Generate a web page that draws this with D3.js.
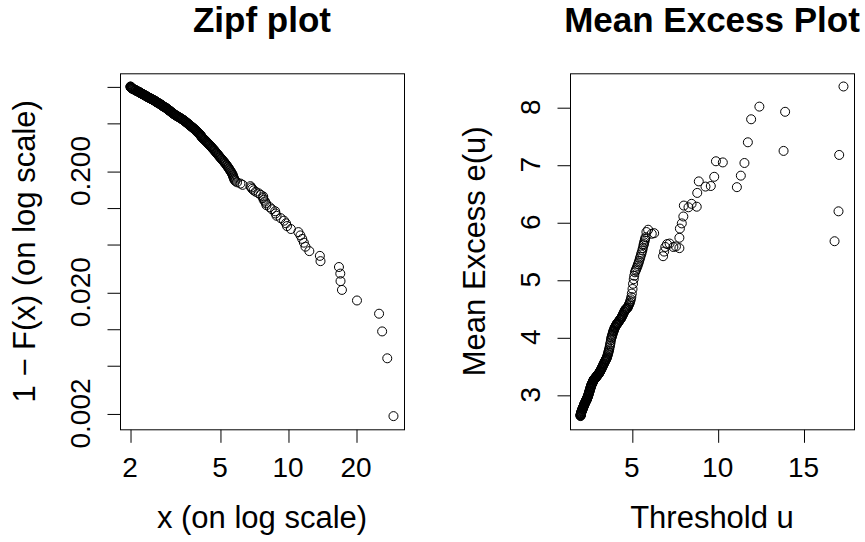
<!DOCTYPE html>
<html><head><meta charset="utf-8">
<script src="https://cdn.jsdelivr.net/npm/d3@7"></script>
<style>
html,body{margin:0;padding:0;background:#fff;}
svg{display:block;font-family:"Liberation Sans",Arial,Helvetica,sans-serif;}
</style>
</head><body>
<svg id="c" width="865" height="542"></svg>
<script>
const sample = [
2.01,2.01,2.01,2.02,2.02,2.02,2.03,2.03,2.03,
2.04,2.05,2.05,2.06,2.07, 2.08,2.09,2.10,2.11,2.12, 2.12,2.13,2.14,2.15,2.16,
2.17,2.18,2.19,2.20,2.21, 2.22,2.22,2.23,2.24,2.25, 2.26,2.27,2.28,2.29,2.30,
2.31,2.32,2.33,2.34,2.35, 2.36,2.37,2.38,2.39,2.40, 2.41,2.42,2.43,2.45,2.46,
2.47,2.48,2.49,2.51,2.52, 2.53,2.54,2.55,2.57,2.58, 2.59,2.60,2.61,2.62,2.63,
2.64,2.66,2.67,2.68,2.70, 2.71,2.72,2.73,2.75,2.76, 2.77,2.78,2.79,2.80,2.81,
2.83,2.84,2.86,2.87,2.89, 2.90,2.91,2.92,2.93,2.94, 2.95,2.97,2.98,3.00,3.01,
3.02,3.03,3.04,3.06,3.07, 3.08,3.10,3.11,3.13,3.14, 3.16,3.17,3.19,3.21,3.23,
3.25,3.27,3.29,3.31,3.33, 3.35,3.37,3.39,3.41,3.43, 3.45,3.47,3.48,3.50,3.52,
3.54,3.55,3.57,3.59,3.61, 3.63,3.64,3.66,3.68,3.70, 3.72,3.74,3.76,3.78,3.80,
3.82,3.84,3.86,3.88,3.90, 3.92,3.93,3.95,3.97,3.99, 4.01,4.03,4.05,4.08,4.10,
4.11,4.12,4.14,4.15,4.17, 4.19,4.22,4.24,4.27,4.29, 4.32,4.34,4.37,4.39,4.42,
4.44,4.47,4.49,4.52,4.55, 4.57,4.60,4.62,4.65,4.68, 4.71,4.74,4.76,4.79,4.82,
4.85,4.88,4.91,4.94,4.97, 5.00,5.04,5.07,5.11,5.14, 5.18,5.22,5.25,5.29,5.33,
5.36,5.40,5.43,5.47,5.50, 5.54,5.57,5.61,5.64,5.68, 5.70,5.72,5.75,5.77,5.80,
5.85,5.95,6.16,6.30,6.82,6.88,6.95,7.05,7.20,7.42,7.57,7.77,7.77,7.80,7.91,
8.00,8.03,8.30,8.48,8.78,8.81,8.90,9.29,9.60,9.80,9.90,10.30,11.12,11.35,11.56,
11.76,11.95,12.43,13.84,13.93,16.81,17.04,17.08,17.33,20.2,25.3,26.1,27.5,29.3
];
// Mean excess e(u), one per threshold u (sample without the 5 largest)
const meE = [
2.63,2.64,2.64,2.65,2.65,2.66,2.66,2.67,2.67,
2.68,2.69,2.69,2.70,2.71, 2.72,2.72,2.73,2.74,2.75, 2.75,2.76,2.76,2.77,2.78,
2.79,2.79,2.80,2.81,2.82, 2.82,2.83,2.83,2.84,2.85, 2.85,2.86,2.86,2.87,2.88,
2.88,2.89,2.90,2.90,2.91, 2.91,2.92,2.93,2.93,2.94, 2.95,2.96,2.96,2.98,2.99,
3.00,3.01,3.02,3.04,3.05, 3.06,3.07,3.08,3.10,3.11, 3.12,3.13,3.14,3.15,3.16,
3.17,3.18,3.19,3.19,3.21, 3.21,3.22,3.23,3.24,3.25, 3.25,3.26,3.27,3.27,3.27,
3.28,3.28,3.29,3.29,3.30, 3.30,3.31,3.31,3.32,3.32, 3.32,3.33,3.33,3.34,3.34,
3.35,3.35,3.36,3.36,3.37, 3.37,3.38,3.39,3.40,3.40, 3.41,3.42,3.43,3.44,3.45,
3.47,3.48,3.49,3.50,3.52, 3.53,3.54,3.55,3.57,3.58, 3.59,3.60,3.61,3.62,3.63,
3.65,3.65,3.67,3.69,3.71, 3.73,3.75,3.77,3.79,3.82, 3.85,3.88,3.91,3.95,3.98,
4.00,4.02,4.04,4.06,4.08, 4.10,4.11,4.12,4.14,4.16, 4.17,4.18,4.19,4.21,4.22,
4.22,4.23,4.23,4.24,4.25, 4.25,4.27,4.27,4.29,4.30, 4.31,4.32,4.33,4.34,4.36,
4.37,4.39,4.40,4.42,4.44, 4.45,4.47,4.48,4.49,4.50, 4.50,4.51,4.52,4.54,4.56,
4.58,4.60,4.63,4.66,4.70, 4.76,4.84,4.93,5.01,5.07, 5.13,5.16,5.18,5.21,5.24,
5.27,5.30,5.33,5.37,5.40, 5.44,5.47,5.51,5.55,5.60, 5.62,5.65,5.68,5.71,5.74,
5.83,5.87,5.80,5.81,5.41,5.49,5.57,5.62,5.63,5.57,5.58,5.55,5.73,5.89,5.98,
6.10,6.29,6.26,6.32,6.27,6.51,6.71,6.62,6.63,6.79,7.06,7.04,6.61,6.81,7.03,
7.39,7.79,8.01,7.24,7.92,5.67,6.19,7.17,8.36
];
const titles = ["Zipf plot", "Mean Excess Plot"];
const xLabels = ["x (on log scale)", "Threshold u"];
const yLabels = ["1 \u2212 F(x) (on log scale)", "Mean Excess e(u)"];
const zipfXTicks = [2, 5, 10, 20];
const zipfXTickLabels = ["2", "5", "10", "20"];
const zipfYTicks = [0.002, 0.005, 0.01, 0.02, 0.05, 0.1, 0.2, 0.5, 1];
const zipfYTickLabels = ["0.002", "", "", "0.020", "", "", "0.200", "", ""];
const meXTicks = [5, 10, 15];
const meXTickLabels = ["5", "10", "15"];
const meYTicks = [3, 4, 5, 6, 7, 8];
const meYTickLabels = ["3", "4", "5", "6", "7", "8"];

// ---- derived plotting data ----
const nObs = sample.length;
const zipf = sample.map((x, k) => ({x: x, y: (nObs - k - 0.5) / nObs}));  // empirical survival (plotting positions)
const meU = sample.slice(0, meE.length);
const me = meU.map((u, k) => ({x: u, y: meE[k]}));

// ---- layout ----
const W = 865, H = 542;
const pTop = 73.3, pBottom = 429.3;
const panels = [{x0: 120, x1: 404}, {x0: 570, x1: 854}];
const FT = 28, FL = 31, FM = 35;
const RAD = 4.5;

function padLin(ext){ const d = (ext[1]-ext[0])*0.04; return [ext[0]-d, ext[1]+d]; }
function padLog(ext){ const a = Math.log10(ext[0]), b = Math.log10(ext[1]); const d=(b-a)*0.04; return [Math.pow(10,a-d), Math.pow(10,b+d)]; }

const svg = d3.select("#c");
svg.append("rect").attr("width", W).attr("height", H).attr("fill", "#fff");

function drawPanel(p, pts, xs, ys, xt, xtl, yt, ytl, title, xl, yl) {
  const g = svg.append("g");
  g.append("g").selectAll("circle").data(pts).enter().append("circle")
    .attr("cx", d => xs(d.x)).attr("cy", d => ys(d.y)).attr("r", RAD)
    .attr("fill", "none").attr("stroke", "#000").attr("stroke-width", 1);
  g.append("rect").attr("x", p.x0 + 0.5).attr("y", pTop + 0.5)
    .attr("width", p.x1 - p.x0).attr("height", pBottom - pTop)
    .attr("fill", "none").attr("stroke", "#000").attr("stroke-width", 1);
  const xa = d3.axisBottom(xs).tickValues(xt).tickFormat("").tickSize(13).tickSizeOuter(0);
  const gx = g.append("g").attr("transform", `translate(0.5,${pBottom + 0.5})`).call(xa);
  gx.select(".domain").remove();
  gx.selectAll("line").attr("stroke", "#000");
  xt.forEach((v, i) => {
    g.append("text").attr("x", xs(v)).attr("y", 477).attr("text-anchor", "middle")
      .attr("font-size", FT).attr("fill", "#000").text(xtl[i]);
  });
  const ya = d3.axisLeft(ys).tickValues(yt).tickFormat("").tickSize(13).tickSizeOuter(0);
  const gy = g.append("g").attr("transform", `translate(${p.x0 + 0.5},0.5)`).call(ya);
  gy.select(".domain").remove();
  gy.selectAll("line").attr("stroke", "#000");
  yt.forEach((v, i) => {
    if (!ytl[i]) return;
    g.append("text").attr("transform", `translate(${p.x0 - 30},${ys(v)}) rotate(-90)`)
      .attr("text-anchor", "middle").attr("font-size", FT).attr("fill", "#000").text(ytl[i]);
  });
  const cx = (p.x0 + p.x1) / 2, cy = (pTop + pBottom) / 2;
  g.append("text").attr("x", cx).attr("y", 528).attr("text-anchor", "middle")
    .attr("font-size", FL).attr("fill", "#000").text(xl);
  g.append("text").attr("transform", `translate(${p.x0 - 85},${cy}) rotate(-90)`)
    .attr("text-anchor", "middle").attr("font-size", FL).attr("fill", "#000").text(yl);
  g.append("text").attr("x", cx).attr("y", 32).attr("text-anchor", "middle")
    .attr("font-size", FM).attr("font-weight", "bold").attr("fill", "#000").text(title);
}

const zx = d3.scaleLog().domain(padLog(d3.extent(zipf, d => d.x))).range([panels[0].x0, panels[0].x1]);
const zy = d3.scaleLog().domain(padLog(d3.extent(zipf, d => d.y))).range([pBottom, pTop]);
drawPanel(panels[0], zipf, zx, zy, zipfXTicks, zipfXTickLabels, zipfYTicks, zipfYTickLabels, titles[0], xLabels[0], yLabels[0]);

const mx = d3.scaleLinear().domain(padLin(d3.extent(me, d => d.x))).range([panels[1].x0, panels[1].x1]);
const my = d3.scaleLinear().domain(padLin(d3.extent(me, d => d.y))).range([pBottom, pTop]);
drawPanel(panels[1], me, mx, my, meXTicks, meXTickLabels, meYTicks, meYTickLabels, titles[1], xLabels[1], yLabels[1]);
</script>
</body></html>
